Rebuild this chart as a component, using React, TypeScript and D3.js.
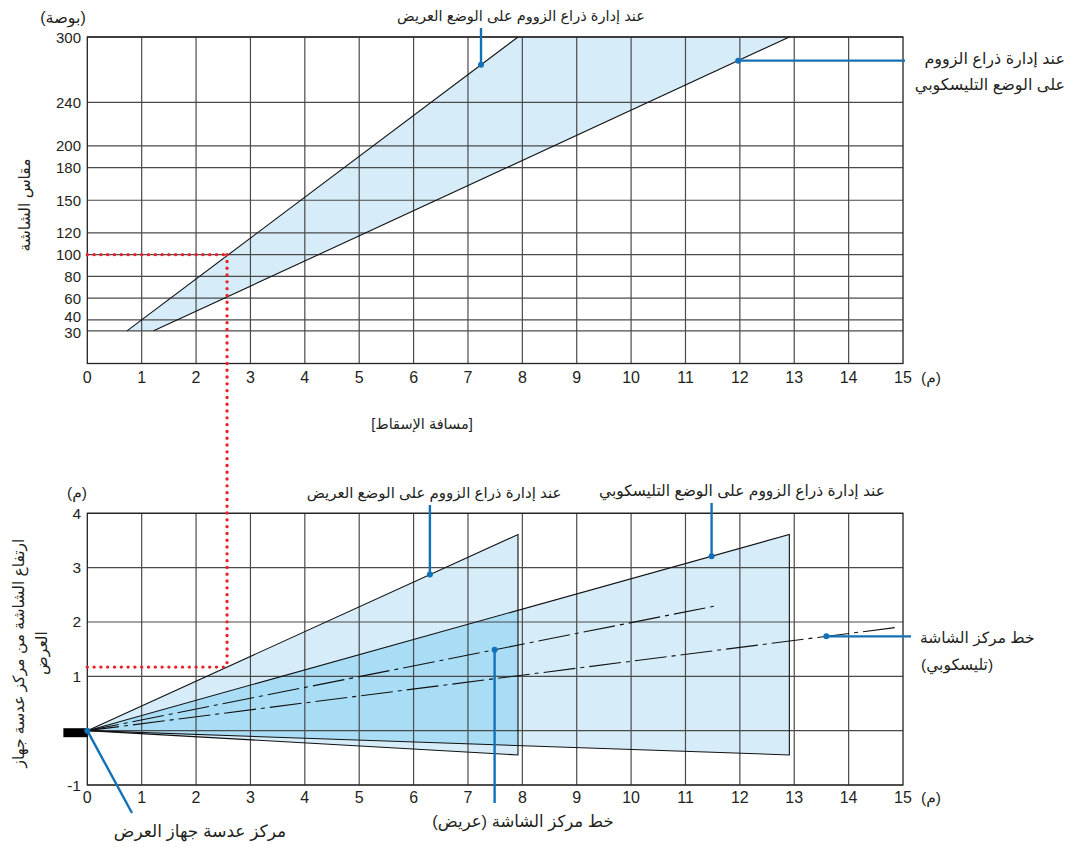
import React from 'react';
import * as d3 from 'd3';

// ---------- data ----------
const distanceTicks = [0, 1, 2, 3, 4, 5, 6, 7, 8, 9, 10, 11, 12, 13, 14, 15];
const sizeTicks = [30, 40, 60, 80, 100, 120, 150, 180, 200, 240, 300];
const heightTicks = [-1, 0, 1, 2, 3, 4];
const heightTickLabels = ['-1', '', '1', '2', '3', '4'];

// screen size (inch) vs projection distance (m)
const sizeRange = [30, 300];
const wideDistance = [0.73, 7.92];
const teleDistance = [1.22, 12.91];

// side view at 300"
const wideThrow = 7.92;
const teleThrow = 12.91;
const screenTop = 3.61;
const screenBottom = -0.447;
const wideCenterEnd = [11.52, 2.29];
const teleCenterEnd = [14.88, 1.9];

// example (red dotted)
const exampleDistance = 2.57;
const exampleSize = 100;
const exampleHeight = 1.17;

// projector body (m)
const projectorX = [-0.44, 0];
const projectorY = [-0.12, 0.045];

// leader anchor distances (m)
const topWideLeaderX = 7.24;
const topTeleLeaderX = 11.97;
const botWideLeaderX = 6.3;
const botTeleLeaderX = 11.48;
const wideCenterLeaderX = 7.49;
const teleCenterLeaderX = 13.59;

const rtl = (s: string) => '\u200F' + s + '\u200F';

const T_WIDE = 'عند إدارة ذراع الزووم على الوضع العريض';
const T_TELE = 'عند إدارة ذراع الزووم على الوضع التليسكوبي';
const T_TELE1 = 'عند إدارة ذراع الزووم';
const T_TELE2 = 'على الوضع التليسكوبي';
const T_INCH = '(بوصة)';
const T_M = '(م)';
const T_SIZE = 'مقاس الشاشة';
const T_DIST = '[مسافة الإسقاط]';
const T_H1 = 'ارتفاع الشاشة من مركز عدسة جهاز';
const T_H2 = 'العرض';
const T_LENS = 'مركز عدسة جهاز العرض';
const T_CW = 'خط مركز الشاشة (عريض)';
const T_CT1 = 'خط مركز الشاشة';
const T_CT2 = '(تليسكوبي)';

const FONT = '"Liberation Sans", Arial, "DejaVu Sans", sans-serif';
const GRID = '#4a4a4a';
const LIGHT = '#d6edf9';
const DARK = '#a9ddf6';
const BLUE = '#1271b8';
const RED = '#e8212b';

export default function App() {
  const W = 1081, H = 847;
  const x = d3.scaleLinear().domain([0, 15]).range([87.3, 903]);
  const yT = d3.scaleLinear().domain([0, 300]).range([363.5, 37]);
  const yB = d3.scaleLinear().domain([-1, 4]).range([785, 513.3]);

  const lineT = d3.line<number[]>().x(d => x(d[0])).y(d => yT(d[1]));
  const lineB = d3.line<number[]>().x(d => x(d[0])).y(d => yB(d[1]));

  const interp = (dist: number[], xv: number) =>
    sizeRange[0] + (xv - dist[0]) / (dist[1] - dist[0]) * (sizeRange[1] - sizeRange[0]);

  const topPoly = [
    [wideDistance[0], sizeRange[0]], [wideDistance[1], sizeRange[1]],
    [teleDistance[1], sizeRange[1]], [teleDistance[0], sizeRange[0]],
  ];
  const teleTri = [[0, 0], [teleThrow, screenTop], [teleThrow, screenBottom]];
  const wideTri = [[0, 0], [wideThrow, screenTop], [wideThrow, screenBottom]];
  const overlap = [[0, 0], [wideThrow, screenTop * wideThrow / teleThrow], [wideThrow, screenBottom * wideThrow / teleThrow]];

  const wideUpperSlope = screenTop / wideThrow;
  const teleUpperSlope = screenTop / teleThrow;
  const wideCSlope = wideCenterEnd[1] / wideCenterEnd[0];
  const teleCSlope = teleCenterEnd[1] / teleCenterEnd[0];

  const textBase = { fontFamily: FONT, fill: '#231f20' } as React.CSSProperties;

  const grid = (yScale: any, yTicks: number[]) => (
    <g>
      {distanceTicks.slice(1, -1).map(t => (
        <line key={'v' + t} x1={x(t)} x2={x(t)} y1={yScale.range()[0]} y2={yScale.range()[1]} stroke={GRID} strokeWidth={1.2} />
      ))}
      {yTicks.map(t => (
        <line key={'h' + t} x1={x(0)} x2={x(15)} y1={yScale(t)} y2={yScale(t)} stroke={GRID} strokeWidth={1.2} />
      ))}
      <rect x={x(0)} y={yScale.range()[1]} width={x(15) - x(0)} height={yScale.range()[0] - yScale.range()[1]} fill="none" stroke="#222" strokeWidth={1.3} />
    </g>
  );

  const dot = (cx: number, cy: number) => <circle cx={cx} cy={cy} r={3} fill={BLUE} />;
  const labelNudge = (t: number) => (t === 40 ? -3.5 : t === 30 ? 2 : 0);

  return (
    <svg width={W} height={H} style={{ position: 'absolute', left: 0, top: 0, background: '#fff' }}>
      {/* ---------- TOP CHART ---------- */}
      <path d={lineT(topPoly) + 'Z'} fill={LIGHT} stroke="none" />
      {grid(yT, sizeTicks.concat([300]))}
      <path d={lineT([[wideDistance[0], sizeRange[0]], [wideDistance[1], sizeRange[1]]]) || ''} stroke="#111" strokeWidth={1.1} fill="none" />
      <path d={lineT([[teleDistance[0], sizeRange[0]], [teleDistance[1], sizeRange[1]]]) || ''} stroke="#111" strokeWidth={1.1} fill="none" />

      {sizeTicks.map(t => (
        <text key={'yl' + t} x={81} y={yT(t) + 5.5 + labelNudge(t)} textAnchor="end" fontSize={15} style={textBase}>{t}</text>
      ))}
      {distanceTicks.map(t => (
        <text key={'xl' + t} x={x(t)} y={383} textAnchor="middle" fontSize={16} style={textBase}>{t}</text>
      ))}
      <text x={931} y={383} textAnchor="middle" fontSize={15.5} style={textBase}>{rtl(T_M)}</text>
      <text x={63} y={23} textAnchor="middle" fontSize={16} style={textBase}>{rtl(T_INCH)}</text>
      <text transform="translate(30,205) rotate(-90)" textAnchor="middle" fontSize={15.5} style={textBase}>{rtl(T_SIZE)}</text>
      <text x={422} y={429} textAnchor="middle" fontSize={14.5} style={textBase}>{rtl(T_DIST)}</text>

      {/* top leaders */}
      <line x1={x(topWideLeaderX)} x2={x(topWideLeaderX)} y1={28} y2={yT(interp(wideDistance, topWideLeaderX))} stroke={BLUE} strokeWidth={2.4} />
      {dot(x(topWideLeaderX), yT(interp(wideDistance, topWideLeaderX)))}
      <text x={521} y={21} textAnchor="middle" fontSize={14.6} style={textBase}>{rtl(T_WIDE)}</text>

      <line x1={x(topTeleLeaderX)} x2={905} y1={yT(interp(teleDistance, topTeleLeaderX))} y2={yT(interp(teleDistance, topTeleLeaderX))} stroke={BLUE} strokeWidth={2.4} />
      {dot(x(topTeleLeaderX), yT(interp(teleDistance, topTeleLeaderX)))}
      <text x={1065} y={64} textAnchor="end" fontSize={16} style={textBase}>{rtl(T_TELE1)}</text>
      <text x={1065} y={90} textAnchor="end" fontSize={16} style={textBase}>{rtl(T_TELE2)}</text>

      {/* ---------- BOTTOM CHART ---------- */}
      <path d={lineB(teleTri) + 'Z'} fill={LIGHT} stroke="none" />
      <path d={lineB(wideTri) + 'Z'} fill={LIGHT} stroke="none" />
      <path d={lineB(overlap) + 'Z'} fill={DARK} stroke="none" />
      {grid(yB, heightTicks)}
      <path d={lineB(teleTri) + 'Z'} fill="none" stroke="#111" strokeWidth={1.1} />
      <path d={lineB(wideTri) + 'Z'} fill="none" stroke="#111" strokeWidth={1.1} />
      <path d={lineB([[0, 0], wideCenterEnd]) || ''} fill="none" stroke="#111" strokeWidth={1.1} strokeDasharray="32 5 4 5" />
      <path d={lineB([[0, 0], teleCenterEnd]) || ''} fill="none" stroke="#111" strokeWidth={1.1} strokeDasharray="32 5 4 5" />

      <rect x={x(projectorX[0])} y={yB(projectorY[1])} width={x(projectorX[1]) - x(projectorX[0])} height={yB(projectorY[0]) - yB(projectorY[1])} fill="#000" />

      {heightTicks.map((t, i) => (
        <text key={'hl' + t} x={81} y={yB(t) + 5.5} textAnchor="end" fontSize={15.5} style={textBase}>{heightTickLabels[i]}</text>
      ))}
      {distanceTicks.map(t => (
        <text key={'bxl' + t} x={x(t)} y={803} textAnchor="middle" fontSize={16} style={textBase}>{t}</text>
      ))}
      <text x={931} y={803} textAnchor="middle" fontSize={15.5} style={textBase}>{rtl(T_M)}</text>
      <text x={77} y={498} textAnchor="middle" fontSize={15.5} style={textBase}>{rtl(T_M)}</text>
      <g transform="translate(0,653) rotate(-90)">
        <text x={0} y={24} textAnchor="middle" fontSize={15.5} style={textBase}>{rtl(T_H1)}</text>
        <text x={0} y={47} textAnchor="middle" fontSize={15.5} style={textBase}>{rtl(T_H2)}</text>
      </g>

      {/* red dotted example */}
      <path d={lineT([[0, exampleSize], [exampleDistance, exampleSize]]) || ''} stroke={RED} strokeWidth={3.4} strokeLinecap="round" strokeDasharray="0 6.8" fill="none" />
      <line x1={x(exampleDistance)} x2={x(exampleDistance)} y1={yT(exampleSize)} y2={yB(exampleHeight)} stroke={RED} strokeWidth={3.4} strokeLinecap="round" strokeDasharray="0 6.8" />
      <path d={lineB([[0, exampleHeight], [exampleDistance, exampleHeight]]) || ''} stroke={RED} strokeWidth={3.4} strokeLinecap="round" strokeDasharray="0 6.8" fill="none" />

      {/* bottom leaders */}
      <line x1={x(botWideLeaderX)} x2={x(botWideLeaderX)} y1={505} y2={yB(botWideLeaderX * wideUpperSlope)} stroke={BLUE} strokeWidth={2.4} />
      {dot(x(botWideLeaderX), yB(botWideLeaderX * wideUpperSlope))}
      <text x={434} y={498} textAnchor="middle" fontSize={15} style={textBase}>{rtl(T_WIDE)}</text>

      <line x1={x(botTeleLeaderX)} x2={x(botTeleLeaderX)} y1={503} y2={yB(botTeleLeaderX * teleUpperSlope)} stroke={BLUE} strokeWidth={2.4} />
      {dot(x(botTeleLeaderX), yB(botTeleLeaderX * teleUpperSlope))}
      <text x={742} y={496} textAnchor="middle" fontSize={15.5} style={textBase}>{rtl(T_TELE)}</text>

      <line x1={x(wideCenterLeaderX)} x2={x(wideCenterLeaderX)} y1={yB(wideCenterLeaderX * wideCSlope)} y2={803} stroke={BLUE} strokeWidth={2.4} />
      {dot(x(wideCenterLeaderX), yB(wideCenterLeaderX * wideCSlope))}
      <text x={523} y={827} textAnchor="middle" fontSize={16.5} style={textBase}>{rtl(T_CW)}</text>

      <line x1={x(teleCenterLeaderX)} x2={911} y1={yB(teleCenterLeaderX * teleCSlope)} y2={yB(teleCenterLeaderX * teleCSlope)} stroke={BLUE} strokeWidth={2.4} />
      {dot(x(teleCenterLeaderX), yB(teleCenterLeaderX * teleCSlope))}
      <text x={920} y={643} textAnchor="start" fontSize={15.5} style={textBase}>{rtl(T_CT1)}</text>
      <text x={921} y={670} textAnchor="start" fontSize={15.5} style={textBase}>{rtl(T_CT2)}</text>

      <line x1={x(0)} x2={132} y1={yB(0)} y2={813} stroke={BLUE} strokeWidth={2.4} />
      {dot(x(0), yB(0))}
      <text x={200} y={837} textAnchor="middle" fontSize={17} style={textBase}>{rtl(T_LENS)}</text>
    </svg>
  );
}
